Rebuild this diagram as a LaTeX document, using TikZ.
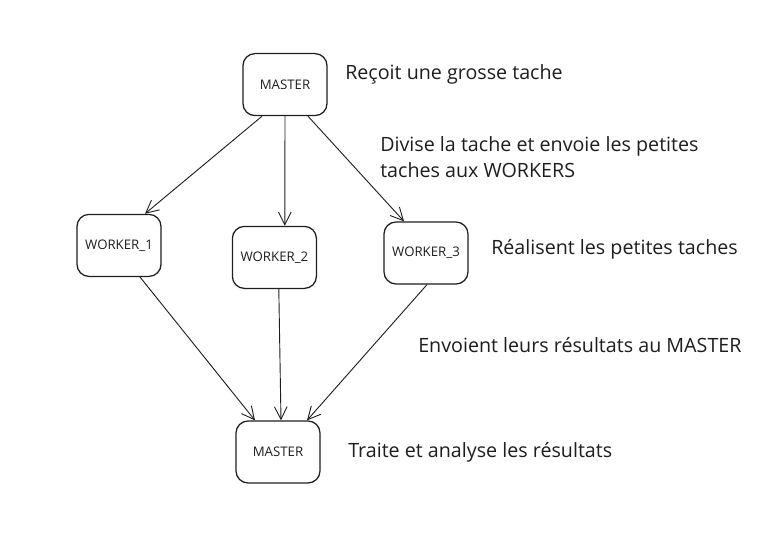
\documentclass[tikz,border=0pt]{standalone}
\usepackage{fontspec}
\setmainfont{Open Sans}
\usetikzlibrary{arrows.meta}
\definecolor{ink}{HTML}{1E1E1E}

\begin{document}
\begin{tikzpicture}[
    task/.style={draw=ink,line width=0.9pt,rounded corners=0.3cm,text=ink,
      font=\fontsize{9.4}{11}\selectfont,minimum width=2.1cm,minimum height=1.55cm,inner sep=0pt},
    note/.style={text=ink,font=\fontsize{14}{18.5}\selectfont,anchor=west,inner sep=0pt,align=left},
    link/.style={draw=ink,line width=0.65pt,-{Straight Barb[length=9pt,width=9pt]}}]
    \path[use as bounding box] (0,0) rectangle (19.5,13.675);
    \coordinate (p0) at (7.125,11.56);
    \coordinate (p1) at (2.975,7.54);
    \coordinate (p2) at (6.86,7.24);
    \coordinate (p3) at (10.65,7.35);
    \coordinate (p4) at (6.95,2.375);

    \node[task] (master) at (p0) {MASTER};
    \foreach \i in {1,2,3} {
        \node[task] (worker\i) at (p\i) {WORKER\_\i};
    }
    \node[task] (result) at (p4) {MASTER};

    % envoi des petites taches
    \draw[link] ([xshift=-0.575cm]master.south) -- ([xshift=0.65cm]worker1.north);
    \draw[link] (master.south) -- ([xshift=0.26cm]worker2.north);
    \draw[link] ([xshift=0.575cm]master.south) -- ([xshift=-0.55cm]worker3.north);

    % retour des resultats
    \draw[link] ([xshift=0.525cm]worker1.south) -- ([xshift=-0.575cm]result.north);
    \draw[link] ([xshift=0.11cm]worker2.south) -- ([xshift=0.075cm]result.north);
    \draw[link] ([xshift=0.025cm]worker3.south) -- ([xshift=0.725cm]result.north);

    \node[note] (recoit) at (8.625,11.825) {Reçoit une grosse tache};
    \node[note] (divise) at (9.5,9.75) {Divise la tache et envoie les petites\\taches aux WORKERS};
    \node[note] (realise) at (12.275,7.45) {Réalisent les petites taches};
    \node[note] (envoi) at (10.45,5.05) {Envoient leurs résultats au MASTER};
    \node[note] (traite) at (8.7,2.375) {Traite et analyse les résultats};
\end{tikzpicture}
\end{document}
